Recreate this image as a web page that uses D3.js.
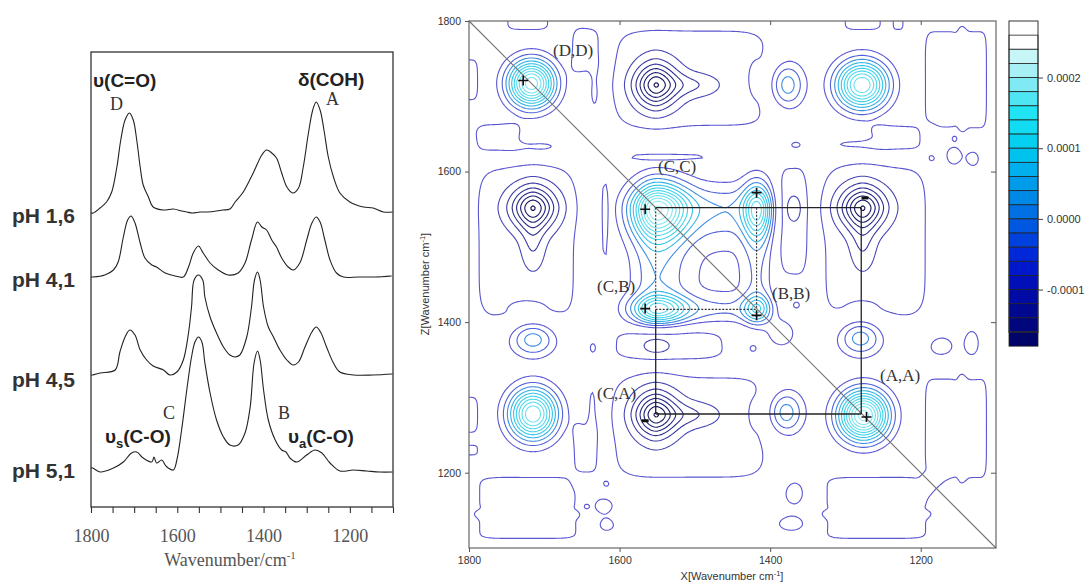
<!DOCTYPE html>
<html>
<head>
<meta charset="utf-8">
<script src="https://cdnjs.cloudflare.com/ajax/libs/d3/7.8.5/d3.min.js"></script>
<style>
body { margin: 0; background: #fff; }
svg { display: block; }
</style>
</head>
<body>
<svg width="1086" height="584"></svg>
<script>
// ---------- left panel: IR spectra, [wavenumber, absorbance a.u.] ----------
const phLabels = ["pH 1,6", "pH 4,1", "pH 4,5", "pH 5,1"];
const phOffsets = [2.94, 2.30, 1.32, 0.35];

const spec16 = [[1800,0.0],[1795,0.0],[1779,0.05],[1764,0.11],[1752,0.21],[1740,0.46],[1731,0.73],[1721,0.93],[1711,1.00],[1702,0.93],[1694,0.73],[1686,0.46],[1679,0.28],[1667,0.16],[1656,0.06],[1632,0.03],[1609,0.04],[1590,0.02],[1578,0.01],[1565,0.0],[1547,0.01],[1530,0.01],[1509,0.02],[1495,0.03],[1478,0.04],[1466,0.11],[1447,0.21],[1424,0.40],[1404,0.58],[1393,0.63],[1381,0.60],[1370,0.55],[1358,0.40],[1346,0.26],[1332,0.20],[1319,0.25],[1308,0.46],[1296,0.80],[1286,1.03],[1278,1.11],[1269,1.03],[1260,0.83],[1250,0.56],[1238,0.36],[1223,0.20],[1200,0.11],[1169,0.06],[1146,0.05],[1122,0.01],[1101,0.01]];
const spec41 = [[1800,0.0],[1795,0.0],[1768,0.02],[1748,0.07],[1737,0.15],[1725,0.40],[1715,0.57],[1707,0.61],[1698,0.54],[1686,0.34],[1675,0.19],[1659,0.12],[1648,0.10],[1628,0.04],[1605,0.01],[1586,0.0],[1574,0.10],[1563,0.24],[1551,0.31],[1540,0.24],[1524,0.14],[1505,0.07],[1482,0.02],[1459,0.04],[1443,0.14],[1428,0.37],[1414,0.55],[1404,0.50],[1393,0.47],[1381,0.37],[1370,0.30],[1358,0.19],[1343,0.10],[1331,0.07],[1316,0.14],[1300,0.37],[1288,0.54],[1278,0.60],[1269,0.55],[1258,0.37],[1246,0.17],[1231,0.04],[1215,0.0],[1180,0.0],[1142,0.0],[1103,0.01]];
const spec45 = [[1800,0.0],[1796,0.0],[1779,0.02],[1744,0.05],[1733,0.23],[1721,0.38],[1710,0.45],[1698,0.40],[1686,0.25],[1671,0.15],[1656,0.09],[1632,0.05],[1617,0.0],[1601,0.03],[1586,0.15],[1574,0.42],[1567,0.68],[1561,0.95],[1551,1.00],[1541,0.95],[1536,0.78],[1524,0.58],[1509,0.42],[1493,0.28],[1478,0.20],[1466,0.18],[1455,0.20],[1439,0.38],[1428,0.68],[1421,0.95],[1414,1.03],[1408,0.95],[1400,0.68],[1389,0.48],[1377,0.38],[1362,0.25],[1346,0.15],[1332,0.10],[1319,0.13],[1304,0.28],[1288,0.43],[1278,0.48],[1268,0.43],[1254,0.28],[1238,0.12],[1223,0.03],[1192,0.0],[1146,0.0],[1101,0.01]];
const spec51 = [[1800,0.04],[1796,0.04],[1779,0.0],[1748,0.04],[1725,0.10],[1706,0.19],[1694,0.20],[1679,0.14],[1659,0.10],[1654,0.15],[1648,0.09],[1636,0.12],[1628,0.07],[1621,0.04],[1609,0.02],[1601,0.12],[1590,0.42],[1578,0.82],[1567,1.15],[1559,1.30],[1551,1.35],[1543,1.30],[1536,1.09],[1524,0.79],[1509,0.52],[1493,0.35],[1478,0.27],[1459,0.27],[1443,0.39],[1431,0.65],[1422,1.09],[1414,1.21],[1408,1.12],[1400,0.82],[1389,0.52],[1373,0.32],[1358,0.22],[1348,0.20],[1339,0.14],[1323,0.10],[1300,0.17],[1281,0.22],[1265,0.19],[1246,0.09],[1223,0.01],[1192,0.02],[1161,0.01],[1131,0.0],[1101,0.0]];
const spectra = [spec16, spec41, spec45, spec51];

// ---------- right panel: synchronous 2D map (values in 1e-4) ----------
// carboxylate bands C and B share one profile: block = p(x) * p(y)
// {c: centre, h: height, wh: width on high side, wl: width on low side, p: shape}
const carboxylateProfile = [
    {c: 1550, h: 1.19, wh: 29, wl: 38, p: 2},
    {c: 1417, h: 0.86, wh: 18, wl: 18, p: 2},
    {c: 1500, h: 0.38, wh: 100, wl: 100, p: 6}
];
// [x, y, value, wx, wy, shape]; off-diagonal entries are mirrored
const crossPeaks = [
    [1717, 1717, 2.15, 30, 30, 2],
    [1276, 1276, 2.3, 32, 32, 2],
    [1385, 1385, 0.35, 20, 20, 2],
    [1715, 1278, 2.0, 31, 33, 2],
    [1552, 1715, -1.3, 28, 29, 1.8],
    [1502, 1715, -0.3, 36, 16, 2],
    [1552, 1277, -1.3, 28, 29, 1.8],
    [1502, 1277, -0.3, 36, 17, 2],
    [1504, 1724, -0.28, 117, 75, 6],
    [1506, 1260, -0.28, 117, 79, 6],
    [1171, 1722, -0.27, 28, 78, 6],
    [1129, 1722, -0.27, 20, 78, 6],
    [1171, 1259, -0.27, 28, 80, 6],
    [1129, 1259, -0.27, 20, 80, 6],
    [1378, 1715, 0.75, 23, 30, 2],
    [1380, 1280, 0.75, 24, 29, 2],
    [1534, 1371, -0.3, 88, 23, 4],
    [1551, 1369, -0.25, 18, 10, 2],
    [1420, 1723, 0.2, 7.5, 19, 2],
    [1278, 1420, 0.2, 15, 7, 2],
    [1423, 1365, 0.3, 7, 7, 2],
    [1635, 1366, 0.3, 8, 13, 2],
    [1762, 1643, 0.3, 36, 24, 4],
    [1705, 1633, 0.32, 28, 7, 2],
    [1535, 1620, 0.2, 90, 6, 4],
    [1230, 1643, 0.3, 42, 21, 4],
    [1287, 1636, 0.32, 36, 6, 2],
    [1186, 1617, 0.3, 8, 8, 2],
    [1156, 1622, 0.3, 15, 19, 2],
    [1155, 1645, 0.3, 6, 6, 2],
    [1130, 1617, 0.3, 10, 13, 2],
    [1800, 1722, 0.3, 14, 33, 4],
    [1800, 1277, 0.3, 14, 29, 4],
    [1800, 1230, 0.3, 14, 8, 4],
    [1368, 1173, 0.3, 18, 22, 2],
    [1372, 1132, 0.3, 24, 13, 2]
];
const plusMarks = [[1728, 1721], [1566, 1550], [1418, 1572], [1566, 1418], [1418, 1409], [1272, 1274]];
const minusMarks = [[1274, 1565], [1566, 1269]];
const peakNames = ["(D,D)", "(C,C)", "(C,B)", "(B,B)", "(C,A)", "(A,A)"];
const mapTicks = [1800, 1600, 1400, 1200];
const cbTicks = [-0.0001, 0, 0.0001, 0.0002];
const bandColors = ["#ffffff", "#c6f6f8", "#a6f0f6", "#7feaf3", "#4ee6f2", "#20e4f2", "#12dcf2", "#06d0f0",
    "#00c2ee", "#00b0ec", "#009cea", "#0088e6", "#0070e2", "#0058e0", "#0040dc", "#0028d8",
    "#0018cc", "#0010b8", "#000aa4", "#000890", "#00067c", "#000468"];

const svg = d3.select("svg");

// ================= left panel =================
const xL = d3.scaleLinear().domain([1800, 1100]).range([91, 393]);
const yL = d3.scaleLinear().domain([0, 4.55]).range([507, 52]);
const left = svg.append("g");

left.append("clipPath").attr("id", "clipL")
    .append("rect").attr("x", 91).attr("y", 52).attr("width", 302).attr("height", 455);

spectra.forEach(function (s, k) {
    const line = d3.line()
        .x(d => xL(d[0]))
        .y(d => yL(d[1] + phOffsets[k]))
        .curve(d3.curveCatmullRom.alpha(0.5));
    left.append("path").datum(s)
        .attr("clip-path", "url(#clipL)")
        .attr("fill", "none")
        .attr("stroke", "#222")
        .attr("stroke-width", 1.1)
        .attr("d", line);
});

left.append("rect").attr("x", 91).attr("y", 52).attr("width", 302).attr("height", 455)
    .attr("fill", "none").attr("stroke", "#333").attr("stroke-width", 1.3);

const axL = left.append("g").attr("transform", "translate(0,507)")
    .call(d3.axisBottom(xL).tickValues(d3.range(1800, 1099, -50)).tickSize(6)
        .tickFormat(d => d % 200 === 0 ? d : ""));
axL.select(".domain").remove();
axL.selectAll("line").attr("stroke", "#333").attr("stroke-width", 1.1);
axL.selectAll("text").attr("dy", null).attr("y", 34.5)
    .attr("font-family", "Liberation Serif").attr("font-size", 18).attr("fill", "#555");

const tL = left.append("text").attr("x", 230).attr("y", 566).attr("text-anchor", "middle")
    .attr("font-family", "Liberation Serif").attr("font-size", 18).attr("fill", "#555");
tL.append("tspan").text("Wavenumber/cm");
tL.append("tspan").attr("dy", -7).attr("font-size", 11).text("-1");

const phY = [223, 287, 387, 478];
phLabels.forEach(function (t, k) {
    left.append("text").attr("x", 12).attr("y", phY[k]).text(t)
        .attr("font-family", "Liberation Sans").attr("font-weight", "bold")
        .attr("font-size", 21).attr("fill", "#333");
});

function bold(x, y, parts) {
    const t = left.append("text").attr("x", x).attr("y", y)
        .attr("font-family", "Liberation Sans").attr("font-weight", "bold")
        .attr("font-size", 19).attr("fill", "#222");
    parts.forEach(function (p) {
        const s = t.append("tspan").text(p[0]);
        if (p[1] === "sub") s.attr("font-size", 13).attr("dy", 5);
        if (p[1] === "back") s.attr("dy", -5);
    });
}
bold(93, 87, [["υ(C=O)"]]);
bold(298, 86, [["δ(COH)"]]);
bold(105, 443, [["υ"], ["s", "sub"], ["(C-O)", "back"]]);
bold(288, 443, [["υ"], ["a", "sub"], ["(C-O)", "back"]]);

[["D", 110, 110], ["A", 326, 105], ["C", 163, 419], ["B", 278, 419]].forEach(function (l) {
    left.append("text").attr("x", l[1]).attr("y", l[2]).text(l[0])
        .attr("font-family", "Liberation Serif").attr("font-size", 18).attr("fill", "#333");
});

// ================= right panel =================
const xM = d3.scaleLinear().domain([1800, 1100]).range([469, 996]);
const yM = d3.scaleLinear().domain([1800, 1100]).range([21, 548]);
const right = svg.append("g");

const step = 2, n = Math.round(700 / step) + 1;
const ws = d3.range(n).map(i => 1800 - i * step);

function peakShape(w, b) {
    const d = w - b.c;
    const s = d > 0 ? b.wh : b.wl;
    return b.h * Math.exp(-Math.pow(Math.abs(d / s), b.p));
}
const prof = ws.map(w => d3.sum(carboxylateProfile, b => peakShape(w, b)));

const grid = new Float64Array(n * n);
for (let j = 0; j < n; j++) {
    for (let i = 0; i < n; i++) {
        grid[j * n + i] = prof[i] * prof[j];
    }
}

function addBlob(cx, cy, v, wx, wy, p) {
    const rx = wx * 4.5, ry = wy * 4.5;
    for (let j = 0; j < n; j++) {
        if (Math.abs(ws[j] - cy) > ry) continue;
        const ey = Math.pow(Math.abs((ws[j] - cy) / wy), p);
        for (let i = 0; i < n; i++) {
            if (Math.abs(ws[i] - cx) > rx) continue;
            const dx = Math.abs((ws[i] - cx) / wx);
            grid[j * n + i] += v * Math.exp(-Math.pow(dx, p) - ey);
        }
    }
}
crossPeaks.forEach(function (b) {
    addBlob(b[0], b[1], b[2], b[3], b[4], b[5]);
    if (b[0] !== b[1]) addBlob(b[1], b[0], b[2], b[4], b[3], b[5]);
});

const negGrid = grid.map(v => -v);
const posLevels = d3.range(1, 14).map(k => k * 0.2);
const negLevels = d3.range(1, 9).map(k => k * 0.2);

const posColor = d3.scaleLinear()
    .domain([0.2, 0.4, 0.6, 0.8, 1.2, 2.0, 2.6])
    .range(["#5a56d4", "#4f62d8", "#3f8ee0", "#2fb6e6", "#3cd2ea", "#7ee6f0", "#bdf4f8"]);
const negColor = d3.scaleLinear()
    .domain([0.2, 0.4, 0.8, 1.2, 1.6])
    .range(["#5a56d0", "#4646b4", "#2e2e92", "#1c1c70", "#101050"]);

const proj = d3.geoTransform({
    point: function (x, y) {
        this.stream.point(xM(1800 - (x - 0.5) * step), yM(1800 - (y - 0.5) * step));
    }
});
const gpath = d3.geoPath(proj);

right.append("clipPath").attr("id", "clipM")
    .append("rect").attr("x", 469).attr("y", 21).attr("width", 527).attr("height", 527);

const cg = right.append("g").attr("clip-path", "url(#clipM)");
cg.selectAll("path.pos")
    .data(d3.contours().size([n, n]).thresholds(posLevels)(grid))
    .enter().append("path").attr("class", "pos")
    .attr("d", gpath).attr("fill", "none")
    .attr("stroke", d => posColor(d.value)).attr("stroke-width", 1.1);
cg.selectAll("path.neg")
    .data(d3.contours().size([n, n]).thresholds(negLevels)(negGrid))
    .enter().append("path").attr("class", "neg")
    .attr("d", gpath).attr("fill", "none")
    .attr("stroke", d => negColor(d.value)).attr("stroke-width", 1.1);

// diagonal
right.append("line").attr("x1", xM(1800)).attr("y1", yM(1800)).attr("x2", xM(1100)).attr("y2", yM(1100))
    .attr("stroke", "#777").attr("stroke-width", 1.2);

// correlation squares
const C = 1552, B = 1417, A = 1279, A2 = 1278;
const solid = [[C, C, A, C], [A, C, A, A2], [C, A2, A, A2], [C, B, C, A2]];
const dotted = [[C, C, C, B], [C, B, 1418, B], [1418, C, 1418, B]];
solid.forEach(function (s) {
    right.append("line").attr("x1", xM(s[0])).attr("y1", yM(s[1])).attr("x2", xM(s[2])).attr("y2", yM(s[3]))
        .attr("stroke", "#222").attr("stroke-width", 1.3);
});
dotted.forEach(function (s) {
    right.append("line").attr("x1", xM(s[0])).attr("y1", yM(s[1])).attr("x2", xM(s[2])).attr("y2", yM(s[3]))
        .attr("stroke", "#333").attr("stroke-width", 1.1).attr("stroke-dasharray", "2,1.5");
});

plusMarks.forEach(function (m) {
    right.append("path").attr("transform", "translate(" + xM(m[0]) + "," + yM(m[1]) + ")")
        .attr("d", "M-5,0H5M0,-5V5").attr("stroke", "#111").attr("stroke-width", 1.6);
});
minusMarks.forEach(function (m) {
    right.append("rect").attr("x", xM(m[0]) - 3.5).attr("y", yM(m[1]) - 1.5)
        .attr("width", 7).attr("height", 3).attr("fill", "#111");
});

const namePos = [[553, 56], [658, 172], [597, 292], [772, 299], [597, 399], [880, 381]];
peakNames.forEach(function (t, k) {
    right.append("text").attr("x", namePos[k][0]).attr("y", namePos[k][1]).text(t)
        .attr("font-family", "Liberation Serif").attr("font-size", 17).attr("fill", "#333");
});

// frame and axes
right.append("rect").attr("x", 469).attr("y", 21).attr("width", 527).attr("height", 527)
    .attr("fill", "none").attr("stroke", "#666").attr("stroke-width", 1.2);

function styleAxis(g) {
    g.select(".domain").remove();
    g.selectAll("line").attr("stroke", "#555");
    g.selectAll("text").attr("font-family", "Liberation Sans").attr("font-size", 10.5).attr("fill", "#333");
}
const fmt = d3.format("d");
right.append("g").attr("transform", "translate(0,548)")
    .call(d3.axisBottom(xM).tickValues(mapTicks).tickFormat(fmt).tickSize(4).tickPadding(5)).call(styleAxis);
right.append("g").attr("transform", "translate(469,0)")
    .call(d3.axisLeft(yM).tickValues(mapTicks).tickFormat(fmt).tickSize(4).tickPadding(4)).call(styleAxis);
right.append("g").attr("transform", "translate(0,21)")
    .call(d3.axisBottom(xM).tickValues(mapTicks.slice(1)).tickSize(4).tickFormat("")).call(styleAxis);
right.append("g").attr("transform", "translate(996,0)")
    .call(d3.axisLeft(yM).tickValues(mapTicks.slice(1)).tickSize(-4).tickFormat("")).call(styleAxis)
    .selectAll("line").attr("x2", -5);

const xt = right.append("text").attr("x", 732).attr("y", 580).attr("text-anchor", "middle")
    .attr("font-family", "Liberation Sans").attr("font-size", 11).attr("fill", "#333");
xt.append("tspan").text("X[Wavenumber cm");
xt.append("tspan").attr("dy", -4).attr("font-size", 7.5).text("-1");
xt.append("tspan").attr("dy", 4).text("]");

const yt = right.append("text").attr("transform", "translate(429,284) rotate(-90)").attr("text-anchor", "middle")
    .attr("font-family", "Liberation Sans").attr("font-size", 11).attr("fill", "#333");
yt.append("tspan").text("Z[Wavenumber cm");
yt.append("tspan").attr("dy", -4).attr("font-size", 7.5).text("-1");
yt.append("tspan").attr("dy", 4).text("]");

// ================= colour bar =================
const cbY = d3.scaleLinear().domain([-0.00016, 0.00028]).range([332, 21]);
const cb = svg.append("g");
cb.selectAll("rect.band").data(bandColors).enter().append("rect").attr("class", "band")
    .attr("x", 1009).attr("width", 29)
    .attr("y", (d, k) => cbY(0.00028 - (k + 1) * 0.00002))
    .attr("height", (d, k) => cbY(0.00028 - (k + 1) * 0.00002) - cbY(0.00028 - k * 0.00002))
    .attr("fill", d => d)
    .attr("stroke", "#222").attr("stroke-width", 0.8);
cb.append("rect").attr("x", 1009).attr("y", 21).attr("width", 29).attr("height", 311)
    .attr("fill", "none").attr("stroke", "#333").attr("stroke-width", 1);
const cbAxis = cb.append("g").attr("transform", "translate(1038,0)")
    .call(d3.axisRight(cbY).tickValues(cbTicks).tickSize(5).tickPadding(4).tickFormat(d => d.toFixed(4)));
cbAxis.select(".domain").remove();
cbAxis.selectAll("line").attr("stroke", "#444");
cbAxis.selectAll("text").attr("font-family", "Liberation Sans").attr("font-size", 11).attr("fill", "#333");
</script>
</body>
</html>
